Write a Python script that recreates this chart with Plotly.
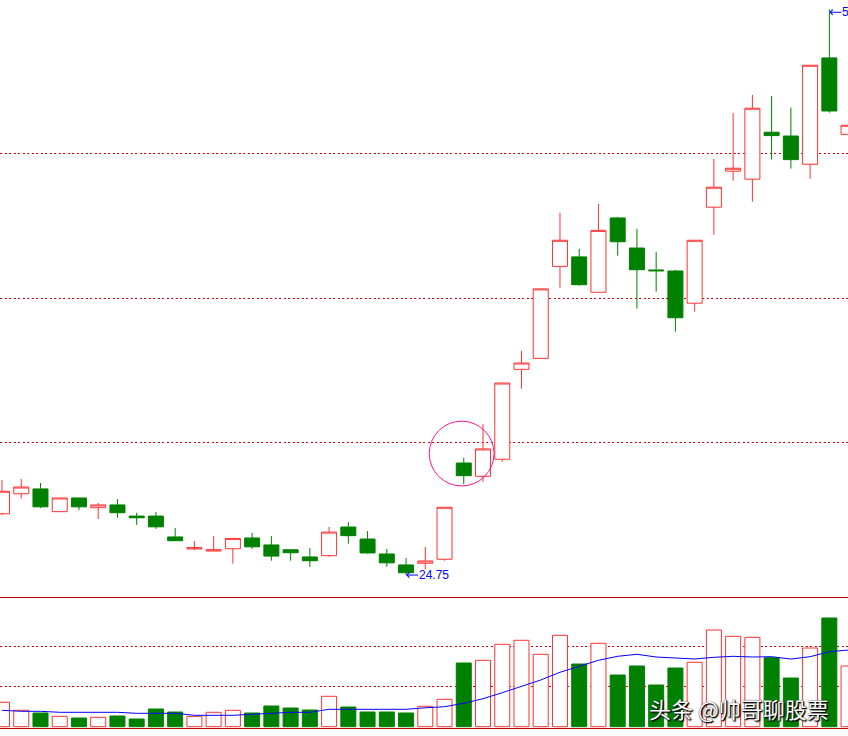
import plotly.graph_objects as go

# ---------------- data ----------------
DAYS = list(range(45))

OPEN = [27.66, 28.61, 28.84, 27.76, 28.41, 27.95, 28.08, 27.55, 27.55, 26.56,
        25.99, 25.89, 26.00, 26.51, 26.18, 25.95, 25.61, 25.67, 27.03, 26.46,
        25.75, 25.23, 25.31, 25.50, 30.07, 29.44, 30.25, 34.52, 35.04, 39.41,
        39.86, 38.18, 41.71, 40.28, 39.24, 39.19, 37.66, 42.22, 43.93, 43.55,
        45.78, 45.60, 44.26, 49.31, 45.68]
HIGH = [29.26, 29.31, 29.12, 28.41, 28.41, 28.17, 28.36, 27.71, 27.74, 26.98,
        26.37, 26.60, 26.49, 26.75, 26.60, 25.95, 26.03, 27.03, 27.27, 26.84,
        25.99, 25.56, 26.08, 27.97, 30.32, 31.92, 33.87, 35.40, 38.34, 41.96,
        40.24, 42.37, 41.76, 41.19, 40.09, 39.24, 40.65, 44.51, 46.70, 47.55,
        47.50, 46.95, 48.96, 51.62, 46.11]
LOW = [27.59, 28.37, 27.93, 27.76, 27.84, 27.41, 27.47, 27.13, 26.94, 26.38,
       25.94, 25.89, 25.29, 25.99, 25.43, 25.43, 25.13, 25.62, 26.24, 25.76,
       25.14, 24.75, 25.02, 25.43, 29.07, 29.18, 30.13, 33.60, 35.04, 38.40,
       38.49, 38.18, 39.92, 37.40, 38.21, 36.31, 37.26, 40.91, 43.48, 42.48,
       44.48, 44.05, 43.57, 46.71, 45.68]
CLOSE = [28.73, 28.93, 27.99, 28.41, 27.99, 28.08, 27.71, 27.47, 27.04, 26.38,
         26.05, 25.95, 26.49, 26.09, 25.65, 25.81, 25.43, 26.79, 26.62, 25.80,
         25.33, 24.86, 25.42, 27.97, 29.47, 30.74, 33.87, 34.82, 38.34, 40.65,
         38.54, 41.12, 40.58, 39.25, 39.20, 36.97, 40.65, 43.17, 44.07, 46.92,
         45.62, 44.48, 48.96, 46.79, 46.11]

VOLUME = [24400, 16400, 13700, 10400, 8700, 9400, 10700, 7700, 17700, 14700,
          10400, 14400, 16400, 13700, 20700, 18700, 16700, 30400, 19700, 14700,
          14700, 13700, 20400, 27400, 63700, 66400, 82400, 86400, 72400, 91400,
          62700, 83400, 51700, 60700, 41700, 58700, 64400, 96700, 90400, 89400,
          69000, 48700, 78700, 108700, 60700]
VOL_MA = [16400, 15400, 15400, 14400, 14400, 14400, 14400, 13400, 13400, 13400,
          11400, 11400, 11400, 12400, 13400, 14400, 14400, 17400, 17400, 17400,
          17400, 17400, 18900, 20000, 23400, 28000, 34000, 40000, 46700, 54400,
          60400, 66400, 70400, 72400, 69700, 69000, 67700, 69400, 70400, 69700,
          70000, 67700, 70000, 75000, 76700]

PRICE_GRID = [31.05, 37.88, 44.77]
VOL_GRID = [40000, 80000]
PRICE_RANGE = [23.66, 52.06]
VOL_RANGE = [-1300, 128700]
X_RANGE = [-0.104, 43.97]
HIGHLIGHT = dict(day=23.89, price=30.52, rx=1.684, ry=1.539)
WATERMARK = "头条 @帅哥聊股票"

# ---------------- styling ----------------
RED = "#FF3232"
GREEN = "#008000"
SEP_RED = "#C00000"
GRID_RED = "#D00000"
BLUE = "#0000FF"

W, H = 848, 736
SPLIT_PX = 598
BOTTOM_PX = 728

up = [c >= o for o, c in zip(OPEN, CLOSE)]
vol_fill = ["white" if u else GREEN for u in up]
vol_line = [RED if u else GREEN for u in up]

fig = go.Figure()

fig.add_trace(go.Candlestick(
    x=DAYS, open=OPEN, high=HIGH, low=LOW, close=CLOSE,
    increasing=dict(line=dict(color=RED, width=1), fillcolor="white"),
    decreasing=dict(line=dict(color=GREEN, width=1), fillcolor=GREEN),
    whiskerwidth=0, hoverinfo="skip", xaxis="x", yaxis="y",
))

fig.add_trace(go.Bar(
    x=DAYS, y=VOLUME, width=0.78,
    marker=dict(color=vol_fill, line=dict(color=vol_line, width=1)),
    hoverinfo="skip", xaxis="x2", yaxis="y2",
))

fig.add_trace(go.Scatter(
    x=DAYS, y=VOL_MA, mode="lines", line=dict(color=BLUE, width=1),
    hoverinfo="skip", xaxis="x2", yaxis="y2",
))

split = 1 - SPLIT_PX / H
bottom = 1 - BOTTOM_PX / H

fig.update_layout(
    width=W, height=H,
    margin=dict(l=0, r=0, t=0, b=0),
    paper_bgcolor="white", plot_bgcolor="white",
    showlegend=False,
    boxgap=0.22, boxgroupgap=0,
    xaxis=dict(domain=[0, 1], range=X_RANGE, anchor="y", showgrid=False,
               zeroline=False, showticklabels=False, ticks="",
               rangeslider=dict(visible=False), fixedrange=True),
    yaxis=dict(domain=[split, 1], range=PRICE_RANGE, anchor="x",
               tickvals=PRICE_GRID, showticklabels=False, ticks="",
               showgrid=True, gridcolor=GRID_RED, griddash="2px,2.5px",
               gridwidth=1, zeroline=False, fixedrange=True),
    xaxis2=dict(domain=[0, 1], range=X_RANGE, anchor="y2", showgrid=False,
                zeroline=False, showticklabels=False, ticks="",
                showline=True, mirror=True, linecolor=SEP_RED, linewidth=1,
                fixedrange=True),
    yaxis2=dict(domain=[bottom, split], range=VOL_RANGE, anchor="x2",
                tickvals=VOL_GRID, showticklabels=False, ticks="",
                showgrid=True, gridcolor=GRID_RED, griddash="2px,2.5px",
                gridwidth=1, zeroline=False, fixedrange=True),
)

# highlight circle
fig.add_shape(type="circle", xref="x", yref="y",
              x0=HIGHLIGHT["day"] - HIGHLIGHT["rx"], x1=HIGHLIGHT["day"] + HIGHLIGHT["rx"],
              y0=HIGHLIGHT["price"] - HIGHLIGHT["ry"], y1=HIGHLIGHT["price"] + HIGHLIGHT["ry"],
              line=dict(color="#FF1493", width=1))

lo_i = LOW.index(min(LOW))
hi_i = HIGH.index(max(HIGH))
label_font = dict(family="Liberation Sans, Arial, sans-serif", size=12, color=BLUE)
for idx, series, shift in ((lo_i, LOW, 0), (hi_i, HIGH, -3)):
    fig.add_annotation(x=DAYS[idx], y=series[idx], xref="x", yref="y",
                       text=f"{series[idx]:.2f}", showarrow=True,
                       ax=12, ay=0, xanchor="left", yanchor="middle",
                       arrowhead=4, arrowsize=1, arrowwidth=1, arrowcolor=BLUE,
                       borderpad=0, yshift=shift, font=label_font)

fig.add_annotation(x=739 / W, y=1 - 707.5 / H, xref="paper", yref="paper",
                   text=WATERMARK, showarrow=False, xanchor="center", yanchor="middle",
                   font=dict(family="Noto Sans CJK SC", size=22, color="white",
                             shadow="1px 1px 1px #000000, 1px 1px 2px #000000, 0px 0px 1px #333333"))

fig.write_html("out.html", config={"displayModeBar": False},
               post_script="document.body.style.margin='0';document.body.style.overflow='hidden';")
